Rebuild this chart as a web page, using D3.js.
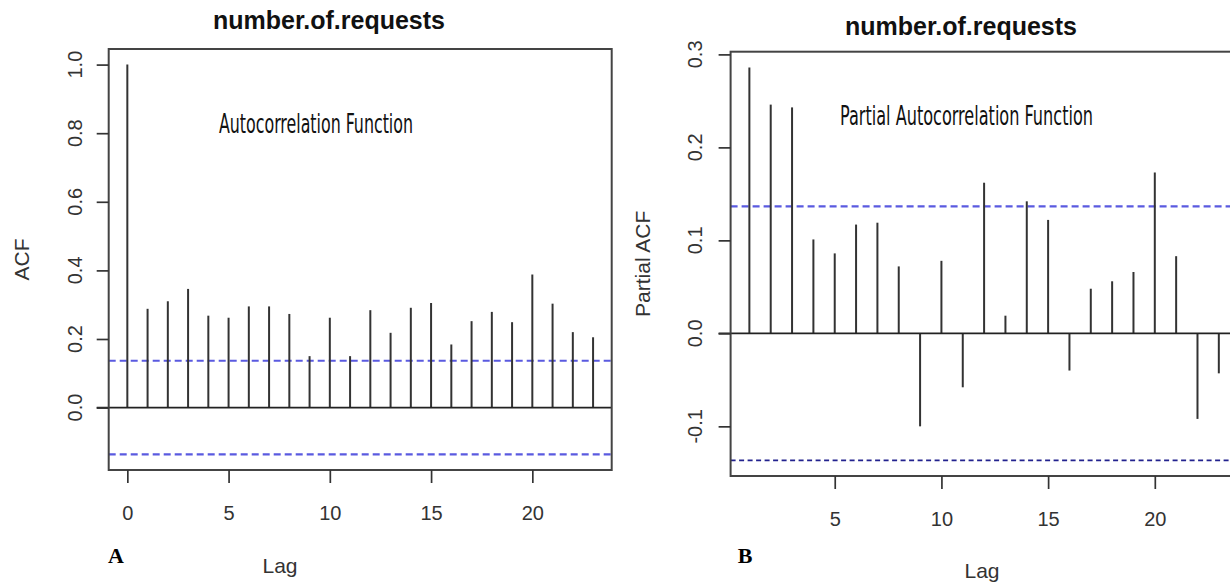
<!DOCTYPE html>
<html>
<head>
<meta charset="utf-8">
<script src="https://d3js.org/d3.v7.min.js"></script>
<style>
    body { margin: 0; background: #fff; }
    text { font-family: "Liberation Sans", Arial, sans-serif; fill: #222; }
    .title { font-weight: bold; font-size: 25px; fill: #111; }
    .tick { font-size: 20px; fill: #333; }
    .lab { font-size: 21px; fill: #333; }
    .note { font-family: "Liberation Sans Narrow", "DejaVu Sans Condensed", sans-serif; font-size: 27px; fill: #111; }
    .panel { font-family: "Liberation Serif", serif; font-weight: bold; font-size: 22px; fill: #000; }
</style>
</head>
<body>
<script>
// ACF, lags 0..23
var acfLags = d3.range(0, 24);
var acfValues = [1.0, 0.288, 0.310, 0.346, 0.268, 0.262, 0.295, 0.295, 0.273, 0.150,
    0.262, 0.150, 0.284, 0.218, 0.291, 0.305, 0.184, 0.252, 0.279, 0.249,
    0.388, 0.303, 0.220, 0.205];
var acfXTicks = [0, 5, 10, 15, 20];
var acfYTicks = [0.0, 0.2, 0.4, 0.6, 0.8, 1.0];

// PACF, lags 1..23
var pacfLags = d3.range(1, 24);
var pacfValues = [0.286, 0.246, 0.243, 0.101, 0.086, 0.117, 0.119, 0.072, -0.100, 0.078,
    -0.058, 0.162, 0.019, 0.142, 0.122, -0.040, 0.048, 0.056, 0.066, 0.173,
    0.083, -0.092, -0.043];
var pacfXTicks = [5, 10, 15, 20];
var pacfYTicks = [-0.1, 0.0, 0.1, 0.2, 0.3];

var ci = 0.1365; // 95% band

var svg = d3.select("body").append("svg")
    .attr("width", 1230)
    .attr("height", 583);

// R style axis range: data range widened by 4% each side
function rlim(vals) {
    var e = d3.extent(vals);
    var d = (e[1] - e[0]) * 0.04;
    return [e[0] - d, e[1] + d];
}

function drawPanel(p) {
    var x = d3.scaleLinear().domain(rlim(p.lags)).range([p.left, p.right]);
    var y = d3.scaleLinear().domain(rlim(p.values.concat([ci, -ci]))).range([p.bottom, p.top]);
    var g = svg.append("g");

    // band lines
    g.selectAll(".ci").data([ci, -ci]).enter().append("line")
        .attr("x1", p.left).attr("x2", p.right)
        .attr("y1", function (d) { return y(d); })
        .attr("y2", function (d) { return y(d); })
        .attr("stroke", function (d, i) { return p.ciColors[i]; })
        .attr("stroke-width", function (d, i) { return p.ciWidth[i]; })
        .attr("stroke-dasharray", function (d, i) { return p.ciDash[i]; });

    // spikes
    g.selectAll(".spike").data(p.values).enter().append("line")
        .attr("x1", function (d, i) { return x(p.lags[i]); })
        .attr("x2", function (d, i) { return x(p.lags[i]); })
        .attr("y1", y(0))
        .attr("y2", function (d) { return y(d); })
        .attr("stroke", "#333")
        .attr("stroke-width", 2);

    // zero line
    g.append("line")
        .attr("x1", p.left - 12).attr("x2", p.right)
        .attr("y1", y(0)).attr("y2", y(0))
        .attr("stroke", "#222").attr("stroke-width", 1.7);

    // box
    g.append("rect")
        .attr("x", p.left).attr("y", p.top)
        .attr("width", p.right - p.left).attr("height", p.bottom - p.top)
        .attr("fill", "none").attr("stroke", "#444").attr("stroke-width", 2);

    // x axis
    var xa = g.append("g").attr("transform", "translate(0," + p.bottom + ")")
        .call(d3.axisBottom(x).tickValues(p.xTicks).tickSize(13).tickSizeOuter(0).tickPadding(23));
    xa.select(".domain").remove();
    xa.selectAll("line").attr("stroke", "#333").attr("stroke-width", 1.7);
    xa.selectAll("text").attr("class", "tick").attr("font-size", null).attr("font-family", null)
        .attr("fill", null);

    // y axis
    var ya = g.append("g").attr("transform", "translate(" + p.left + ",0)")
        .call(d3.axisLeft(y).tickValues(p.yTicks).tickSize(12).tickSizeOuter(0)
            .tickFormat(d3.format(".1f")));
    ya.select(".domain").remove();
    ya.selectAll("line").attr("stroke", "#333").attr("stroke-width", 1.7);
    ya.selectAll("text").remove();
    g.selectAll(".ylab").data(p.yTicks).enter().append("text")
        .attr("class", "tick")
        .attr("text-anchor", "middle")
        .attr("transform", function (d) {
            return "translate(" + p.yTickX + "," + y(d) + ") rotate(-90)";
        })
        .text(function (d) { return d3.format(".1f")(d).replace("−", "-"); });

    // labels
    g.append("text").attr("class", "title").attr("text-anchor", "middle")
        .attr("x", p.titleX).attr("y", p.titleY).text("number.of.requests");
    g.append("text").attr("class", "lab").attr("text-anchor", "middle")
        .attr("x", p.lagX).attr("y", p.lagY).text("Lag");
    g.append("text").attr("class", "lab").attr("text-anchor", "middle")
        .attr("transform", "translate(" + p.yLabX + "," + ((p.top + p.bottom) / 2) + ") rotate(-90)")
        .text(p.yLabel);
    g.append("text").attr("class", "note")
        .attr("x", p.noteX).attr("y", p.noteY)
        .attr("textLength", p.noteW).attr("lengthAdjust", "spacingAndGlyphs")
        .text(p.note);
    g.append("text").attr("class", "panel").attr("text-anchor", "middle")
        .attr("x", p.tagX).attr("y", 563).text(p.tag);
}

drawPanel({
    lags: acfLags, values: acfValues, xTicks: acfXTicks, yTicks: acfYTicks,
    left: 108.7, right: 611.7, top: 49, bottom: 470,
    ciColors: ["#5a5ae0", "#5a5ae0"], ciDash: ["7,4", "7,4"], ciWidth: [2.2, 2.2],
    yTickX: 82, yLabX: 29, yLabel: "ACF",
    titleX: 329, titleY: 29, lagX: 280, lagY: 573,
    note: "Autocorrelation Function", noteX: 219, noteY: 133, noteW: 194,
    tag: "A", tagX: 116
});

drawPanel({
    lags: pacfLags, values: pacfValues, xTicks: pacfXTicks, yTicks: pacfYTicks,
    left: 730.6, right: 1237.6, top: 51.7, bottom: 476,
    ciColors: ["#5a5ae0", "#22228e"], ciDash: ["7,4", "5,3.5"], ciWidth: [2.2, 1.8],
    yTickX: 702, yLabX: 650, yLabel: "Partial ACF",
    titleX: 961, titleY: 35, lagX: 982, lagY: 578,
    note: "Partial Autocorrelation Function", noteX: 840, noteY: 125, noteW: 253,
    tag: "B", tagX: 745
});
</script>
</body>
</html>
